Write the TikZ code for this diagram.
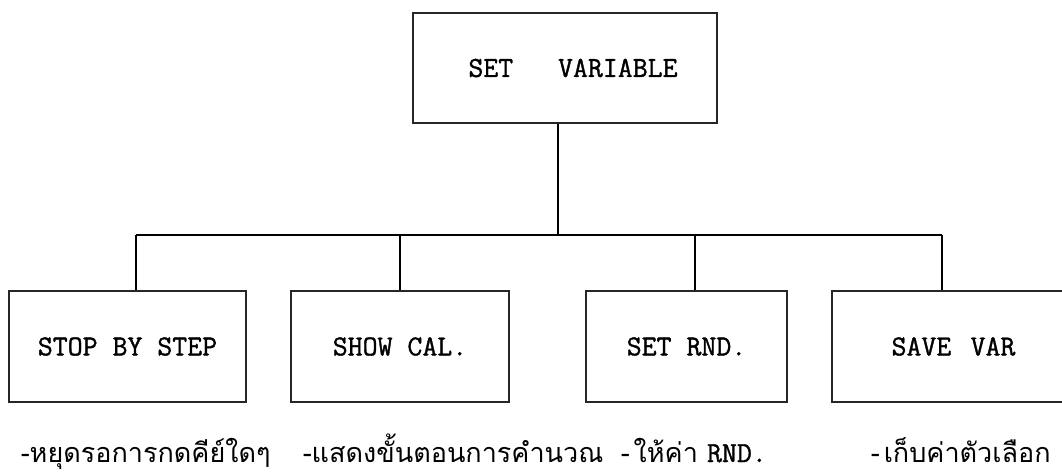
\documentclass[tikz,border=0pt]{standalone}
\usepackage{fontspec}
\newfontfamily\thaifont[Script=Thai]{Loma}
\newfontfamily\boxfont{Latin Modern Mono}[FakeBold=1.2]
\begin{document}
\begin{tikzpicture}[x=1pt,y=-1pt,
  line width=1.5pt,
  box/.style={draw=black!85, rectangle, inner sep=0pt,
    font=\fontsize{29}{32}\selectfont\boxfont},
  note/.style={anchor=base west, inner sep=0pt,
    font=\fontsize{27}{30}\selectfont\thaifont}]
\useasboundingbox (0,0) rectangle (1062,474);

% menu boxes
\node[box, minimum width=304pt, minimum height=110pt] (top) at (565,68) {\hspace{16pt}SET\ \ \ VARIABLE};
\node[box, minimum width=237pt, minimum height=111pt] (b1) at (127.5,346.5) {STOP BY STEP};
\node[box, minimum width=218pt, minimum height=111pt] (b2) at (400,346.5) {SHOW CAL.};
\node[box, minimum width=201pt, minimum height=111pt] (b3) at (686.5,346.5) {SET RND.};
\node[box, minimum width=243pt, minimum height=111pt] (b4) at (953.5,346.5) {SAVE~\kern0.15em VAR};

% bus line
\coordinate (hub) at (558,235);
\coordinate (d1) at (136,235);
\coordinate (d2) at (400,235);
\coordinate (d3) at (695,235);
\coordinate (d4) at (942,235);
\draw (top.south -| hub) -- (hub);
\draw (d1) -- (d4);
\draw (d1) -- (d1 |- b1.north);
\draw (d2) -- (d2 |- b2.north);
\draw (d3) -- (d3 |- b3.north);
\draw (d4) -- (d4 |- b4.north);

% descriptions
\node[note] (n1) at (20,462) {-หยุดรอการกดคีย์ใดๆ};
\node[note] (n2) at (302,462) {-แสดงขั้นตอนการคำนวณ};
\node[note] (n3) at (620,462) {-\kern4pt ให้ค่า {\fontsize{29}{32}\selectfont\boxfont RND.}};
\node[note] (n4) at (870,462) {-\kern4pt เก็บค่าตัวเลือก};
\end{tikzpicture}
\end{document}
